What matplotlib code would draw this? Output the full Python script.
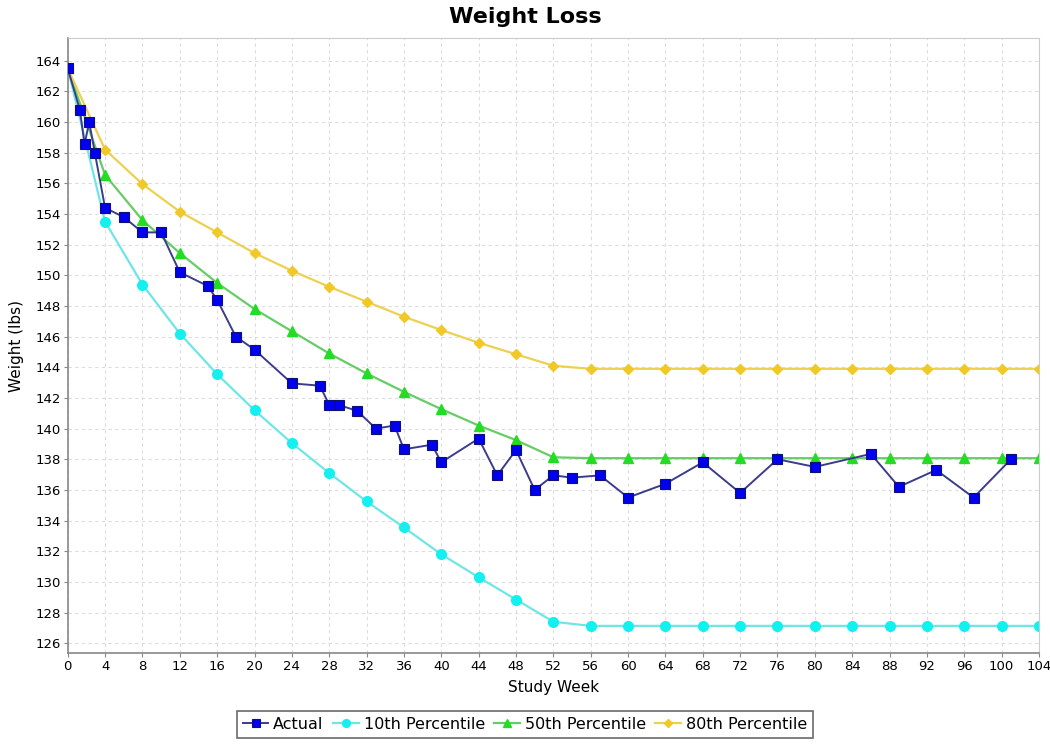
import numpy as np
import matplotlib
matplotlib.use("Agg")
import matplotlib.pyplot as plt

# Actual weigh-ins (study week, weight in lbs)
actual_weeks = [0, 1.3, 1.8, 2.3, 2.9, 4, 6, 8, 10, 12, 15, 16, 18, 20, 24, 27, 28, 29,
                31, 33, 35, 36, 39, 40, 44, 46, 48, 50, 52, 54, 57, 60, 64, 68, 72, 76,
                80, 86, 89, 93, 97, 101]
actual_weight = [163.5, 160.8, 158.55, 160.0, 158.0, 154.4, 153.8, 152.8, 152.8, 150.2,
                 149.3, 148.4, 146.0, 145.15, 142.95, 142.8, 141.55, 141.55, 141.15,
                 140.0, 140.2, 138.65, 138.95, 137.8, 139.35, 136.95, 138.6, 136.0,
                 136.95, 136.8, 136.95, 135.5, 136.4, 137.8, 135.8, 138.0, 137.5,
                 138.35, 136.2, 137.3, 135.5, 138.0]

# Percentile curves, one value every 4 weeks
pct_weeks = list(range(0, 105, 4))
p10 = [163.5, 153.5, 149.4, 146.2, 143.55, 141.2, 139.05, 137.1, 135.25, 133.55,
       131.8, 130.3, 128.85, 127.4, 127.13, 127.13, 127.13, 127.13, 127.13, 127.13,
       127.13, 127.13, 127.13, 127.13, 127.13, 127.13, 127.13]
p50 = [163.5, 156.55, 153.6, 151.45, 149.5, 147.8, 146.35, 144.9, 143.6, 142.4,
       141.27, 140.2, 139.25, 138.13, 138.07, 138.07, 138.07, 138.07, 138.07, 138.07,
       138.07, 138.07, 138.07, 138.07, 138.07, 138.07, 138.07]
p80 = [163.5, 158.2, 155.95, 154.15, 152.8, 151.45, 150.3, 149.25, 148.28, 147.3,
       146.43, 145.6, 144.85, 144.1, 143.9, 143.9, 143.9, 143.9, 143.9, 143.9,
       143.9, 143.9, 143.9, 143.9, 143.9, 143.9, 143.9]

fig = plt.figure(figsize=(10.5, 7.47), dpi=100)
ax = fig.add_axes([0.0645, 0.1254, 0.925, 0.8233])

ax.plot(pct_weeks, p10, color="#6ee6e6", lw=1.6, marker="o", ms=7,
        mfc="#14f0f0", mec="#14f0f0", label="10th Percentile", zorder=2)
ax.plot(pct_weeks, p50, color="#66cc66", lw=1.6, marker="^", ms=7,
        mfc="#22dd22", mec="#22dd22", label="50th Percentile", zorder=2)
ax.plot(pct_weeks, p80, color="#eed050", lw=1.6, marker="D", ms=5.5,
        mfc="#f0c828", mec="#f0c828", label="80th Percentile", zorder=2)
ax.plot(actual_weeks, actual_weight, color="#3c3c8c", lw=1.4, marker="s", ms=7.5,
        mfc="#0000f0", mec="#101070", mew=0.8, label="Actual", zorder=3)

ax.set_xlim(0, 104)
ax.set_ylim(125.34, 165.46)
ax.set_xticks(range(0, 105, 4))
ax.set_yticks(range(126, 165, 2))
ax.tick_params(labelsize=9.5, length=3, color="#888888", pad=2)
ax.grid(True, color="#dddddd", linestyle=(0, (3, 3)), linewidth=0.8)
ax.set_axisbelow(True)
for side in ["top", "right"]:
    ax.spines[side].set_color("#cccccc")
for side in ["left", "bottom"]:
    ax.spines[side].set_color("#888888")
    ax.spines[side].set_linewidth(1.2)

ax.set_xlabel("Study Week", fontsize=11, labelpad=5)
ax.set_ylabel("Weight (lbs)", fontsize=11, labelpad=8)
fig.suptitle("Weight Loss", fontsize=16, fontweight="bold", y=0.99)

handles, labels = ax.get_legend_handles_labels()
order = [3, 0, 1, 2]
leg = fig.legend([handles[i] for i in order], [labels[i] for i in order],
                 loc="lower center", bbox_to_anchor=(0.5, 0.002), ncol=4,
                 fontsize=11.5, frameon=True, fancybox=False, handlelength=1.6,
                 handletextpad=0.3, columnspacing=0.6, borderpad=0.35,
                 markerscale=0.8)
leg.get_frame().set_edgecolor("#444444")
leg.get_frame().set_linewidth(1.2)

fig.savefig("out.png", dpi=100)
